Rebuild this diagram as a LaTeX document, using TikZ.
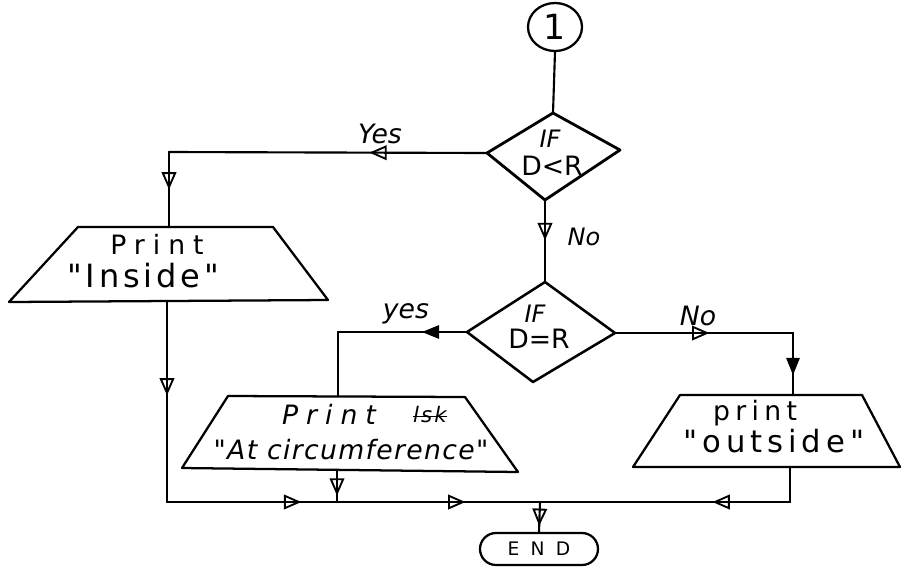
\documentclass[tikz,border=0pt]{standalone}
\usepackage{fontspec}
\setmainfont{DejaVu Sans}[Ligatures=TeXOff]
\usetikzlibrary{arrows.meta,decorations.markings,shapes.geometric,shapes.misc}
\newcommand{\hw}[3]{{\fontsize{#1}{#1}\selectfont\addfontfeatures{LetterSpace=#2}#3}}
\begin{document}
\begin{tikzpicture}[x=0.75pt,y=-0.75pt,
  ln/.style={line width=1.6pt, line join=round, line cap=round},
  shp/.style={line width=1.7pt, line join=round},
  otip/.style={},
  oarr/.style={postaction={decorate},decoration={markings,
     mark=at position #1 with {\arrow{Triangle[open,length=13pt,width=11pt,line width=1.4pt]}}}},
  farr/.style={postaction={decorate},decoration={markings,
     mark=at position #1 with {\arrow{Triangle[length=13pt,width=10pt]}}}},
  oarrtwo/.style 2 args={postaction={decorate},decoration={markings,
     mark=at position #1 with {\arrow{Triangle[open,length=13pt,width=11pt,line width=1.4pt]}},
     mark=at position #2 with {\arrow{Triangle[open,length=13pt,width=11pt,line width=1.4pt]}}}},
  txt/.style={anchor=base, inner sep=0pt}
]
\useasboundingbox (0,0) rectangle (907,569);

% connector circle
\node[ellipse, draw, shp, minimum width=40.5pt, minimum height=36pt, inner sep=0pt] (c1) at (555,27) {\hw{26}{0}{1}};

% decision 1
\coordinate (d1t) at (553,113);
\coordinate (d1l) at (487,153);
\coordinate (d1r) at (620,150);
\coordinate (d1b) at (545,200);
\draw[shp, line width=2.1pt] (d1t) -- (d1r) -- (d1b) -- (d1l) -- cycle;
\node[txt] (d1a) at (550,147) {{\itshape\hw{18}{0}{IF}}};
\node[txt] (d1c) at (552,175) {\hw{20}{0}{D<R}};

% decision 2
\coordinate (d2t) at (545,282);
\coordinate (d2l) at (467,332);
\coordinate (d2r) at (615,333);
\coordinate (d2b) at (533,382);
\draw[shp, line width=1.9pt] (d2t) -- (d2r) -- (d2b) -- (d2l) -- cycle;
\node[txt] (d2a) at (535,322) {{\itshape\hw{18}{0}{IF}}};
\node[txt] (d2c) at (539,348) {\hw{20}{0}{D=R}};

% print Inside
\coordinate (inTL) at (78,227);
\coordinate (inTR) at (273,227);
\coordinate (inBR) at (328,300);
\coordinate (inBL) at (9,302);
\draw[shp] (inTL) -- (inTR) -- (inBR) -- (inBL) -- cycle;
\coordinate (inTop) at (169,227);
\coordinate (inBot) at (167,301);
\node[txt] (inP) at (157,254) {\hw{20}{30}{Print}};
\node[txt] (inQ) at (143,287) {\hw{24}{12}{"Inside"}};

% print At circumference
\coordinate (ciTL) at (228,396);
\coordinate (ciTR) at (465,397);
\coordinate (ciBR) at (518,472);
\coordinate (ciBL) at (182,468);
\draw[shp] (ciTL) -- (ciTR) -- (ciBR) -- (ciBL) -- cycle;
\coordinate (ciTop) at (338,396);
\coordinate (ciBot) at (337,470);
\node[txt] (ciP) at (329,424) {{\itshape\hw{20}{30}{Print}}};
\node[txt] (ciX) at (430,422) {{\itshape\hw{16}{10}{lsk}}};
\draw[line width=1.2pt] ([yshift=4pt]ciX.base west) -- ([yshift=4pt]ciX.base east);
\node[txt] (ciQ) at (351,459) {{\itshape\hw{20}{5}{"At circumference"}}};

% print outside
\coordinate (ouTL) at (680,395);
\coordinate (ouTR) at (862,395);
\coordinate (ouBR) at (900,467);
\coordinate (ouBL) at (633,467);
\draw[shp] (ouTL) -- (ouTR) -- (ouBR) -- (ouBL) -- cycle;
\coordinate (ouTop) at (793,395);
\coordinate (ouBot) at (790,467);
\node[txt] (ouP) at (755,420) {\hw{20}{20}{print}};
\node[txt] (ouQ) at (774,452) {\hw{23}{16}{"outside"}};

% END
\node[rounded rectangle, draw, shp, minimum width=88.5pt, minimum height=24pt, inner sep=0pt] (end) at (539,549) {\hw{14}{60}{END}};

% labels
\node[txt] (l1) at (380,143) {{\itshape\hw{20}{0}{Yes}}};
\node[txt] (l2) at (584,245) {{\itshape\hw{18}{0}{No}}};
\node[txt] (l3) at (406,318) {{\itshape\hw{20}{0}{yes}}};
\node[txt] (l4) at (698,325) {{\itshape\hw{20}{0}{No}}};

% connectors
\coordinate (cy1) at (169,152);
\coordinate (cy2) at (338,332);
\coordinate (cn2) at (793,333);
\coordinate (cb1) at (167,502);
\coordinate (jn) at (540,502);
\coordinate (jc) at (337,502);
\coordinate (co) at (790,502);

\draw[ln] (c1.south) -- (d1t);
\draw[ln, oarr=0.37] (d1l) -- (cy1);
\draw[ln, oarr=0.5] (cy1) -- (inTop);
\draw[ln, oarr=0.49] (d1b) -- (d2t);
\draw[ln, farr=0.35] (d2l) -- (cy2);
\draw[ln] (cy2) -- (ciTop);
\draw[ln, oarr=0.53] (d2r) -- (cn2);
\draw[ln, farr=0.68] (cn2) -- (ouTop);
\draw[ln, oarr=0.47] (inBot) -- (cb1);
\draw[ln, oarrtwo={0.36}{0.80}] (cb1) -- (jn);
\draw[ln, oarr=0.8] (ciBot) -- (jc);
\draw[ln] (ouBot) -- (co);
\draw[ln, oarr=0.31] (co) -- (jn);
\draw[ln, oarr=0.8] (jn) -- (end.north);
\end{tikzpicture}
\end{document}
